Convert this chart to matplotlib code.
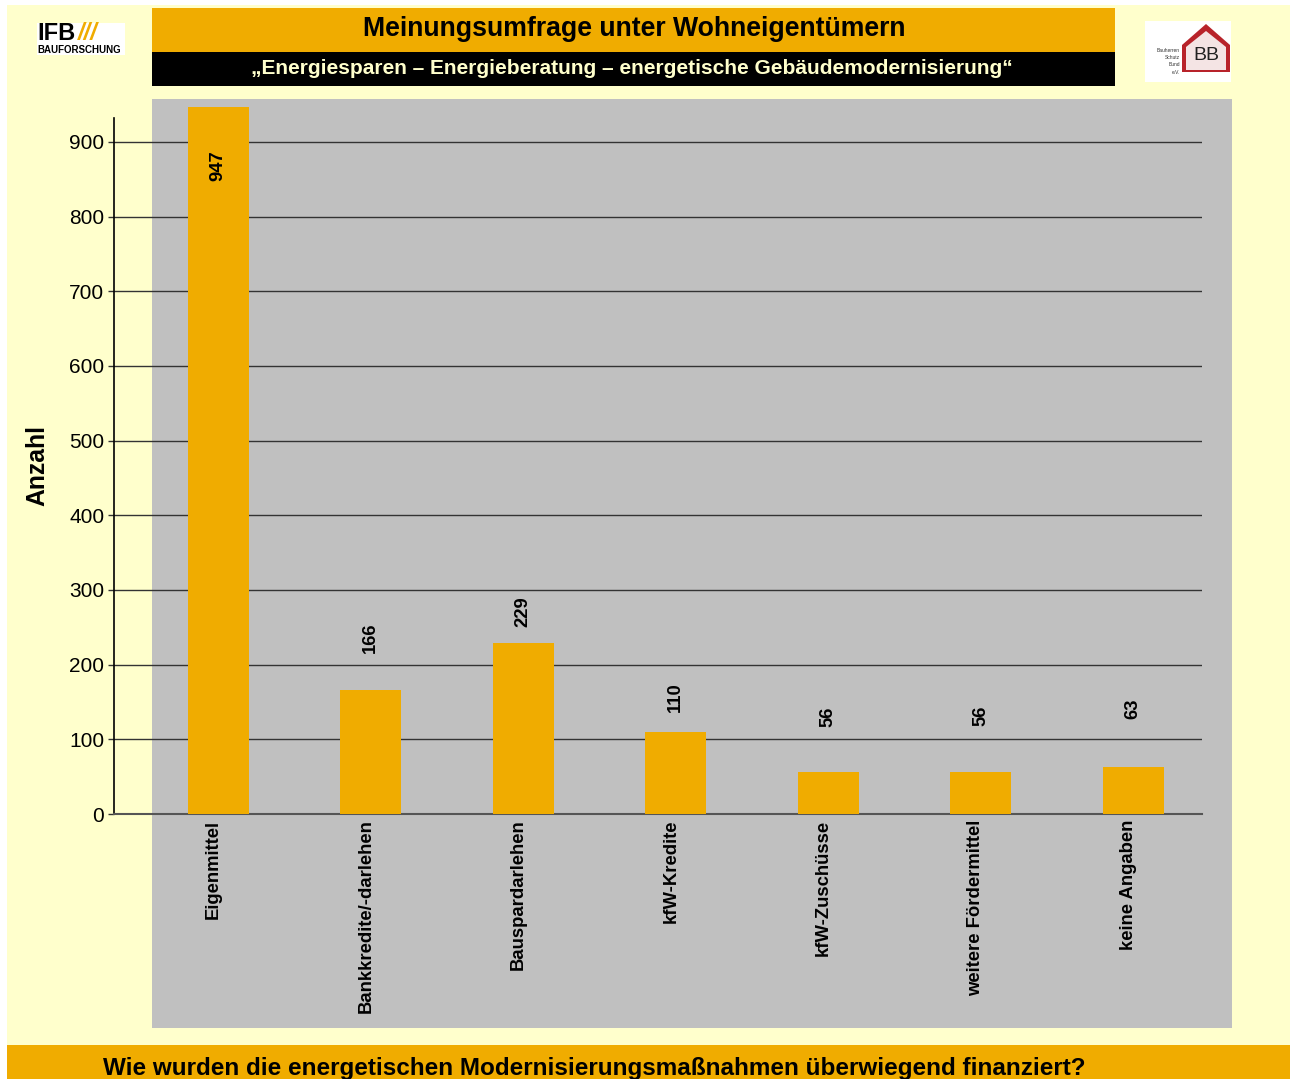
import matplotlib
matplotlib.use("Agg")
import matplotlib.pyplot as plt
from matplotlib.patches import Rectangle, Polygon

# ---- data ----
categories = ["Eigenmittel", "Bankkredite/-darlehen", "Bauspardarlehen",
              "kfW-Kredite", "kfW-Zuschüsse", "weitere Fördermittel", "keine Angaben"]
values = [947, 166, 229, 110, 56, 56, 63]
y_ticks = [0, 100, 200, 300, 400, 500, 600, 700, 800, 900]
title = "Meinungsumfrage unter Wohneigentümern"
subtitle = "\u201EEnergiesparen \u2013 Energieberatung \u2013 energetische Gebäudemodernisierung\u201C"
footer = "Wie wurden die energetischen Modernisierungsmaßnahmen überwiegend finanziert?"
ylabel = "Anzahl"

# style: label offsets in pixels (negative = above bar top)
label_offsets_px = [59, -52, -31, -35, -55, -56, -58]

W, H = 1290, 1079
DPI = 100
ORANGE = "#F0AC00"
YELLOW = "#FFFFCC"
GRAY = "#C0C0C0"

plt.rcParams["font.family"] = ["Liberation Sans", "DejaVu Sans"]

fig = plt.figure(figsize=(W / DPI, H / DPI), dpi=DPI)
fig.patch.set_facecolor("white")

def px_rect(x0, y0, x1, y1, **kw):
    r = Rectangle((x0 / W, 1 - y1 / H), (x1 - x0) / W, (y1 - y0) / H,
                  transform=fig.transFigure, **kw)
    fig.patches.append(r)
    return r

# background
px_rect(7, 5, W, H, facecolor=YELLOW, edgecolor="none", zorder=0)
# gray panel
px_rect(152, 99, 1232, 1028, facecolor=GRAY, edgecolor="none", zorder=0.5)
# title bands
px_rect(152, 8, 1115, 52, facecolor=ORANGE, edgecolor="none", zorder=1)
px_rect(152, 52, 1115, 86, facecolor="black", edgecolor="none", zorder=1)
# footer band
px_rect(7, 1045, W, H, facecolor=ORANGE, edgecolor="none", zorder=1)

fig.text(634 / W, 1 - 29 / H, title, ha="center", va="center", fontsize=19.2,
         fontweight="bold", color="black", zorder=3)
fig.text(632 / W, 1 - 69 / H, subtitle, ha="center", va="center", fontsize=15,
         fontweight="bold", color=YELLOW, zorder=3)
fig.text(594 / W, 1 - 1068 / H, footer, ha="center", va="center", fontsize=17.5,
         fontweight="bold", color="black", zorder=3)

# IFB logo
px_rect(37, 23, 125, 55, facecolor="white", edgecolor="none", zorder=2)
fig.text(37 / W, 1 - 34 / H, "IFB", ha="left", va="center", fontsize=17,
         fontweight="bold", color="black", zorder=3)
fig.text(78 / W, 1 - 34 / H, "///", ha="left", va="center", fontsize=17,
         fontweight="bold", color=ORANGE, style="italic", zorder=3)
fig.text(37 / W, 1 - 50 / H, "BAUFORSCHUNG", ha="left", va="center", fontsize=7,
         fontweight="bold", color="black", zorder=3)

# Bauherren-Schutzbund logo
px_rect(1145, 21, 1231, 82, facecolor="white", edgecolor="none", zorder=2)
house = Polygon([(1182 / W, 1 - 72 / H), (1182 / W, 1 - 45 / H), (1206 / W, 1 - 24 / H),
                 (1230 / W, 1 - 45 / H), (1230 / W, 1 - 72 / H)], closed=True,
                transform=fig.transFigure, facecolor="#B8232A", edgecolor="none", zorder=3)
fig.patches.append(house)
inner = Polygon([(1186 / W, 1 - 70 / H), (1186 / W, 1 - 47 / H), (1206 / W, 1 - 31 / H),
                 (1226 / W, 1 - 47 / H), (1226 / W, 1 - 70 / H)], closed=True,
                transform=fig.transFigure, facecolor="#F4E4E4", edgecolor="none", zorder=3)
fig.patches.append(inner)
fig.text(1206 / W, 1 - 55 / H, "BB", ha="center", va="center", fontsize=14,
         color="#222222", zorder=4)
for i, t in enumerate(["Bauherren", "Schutz", "Bund", "e.V."]):
    fig.text(1180 / W, 1 - (50 + i * 7.5) / H, t, ha="right", va="center", fontsize=3.5,
             color="#333333", zorder=4)

# ---- axes ----
ax = fig.add_axes([114 / W, 1 - 814 / H, (1202 - 114) / W, (814 - 118) / H])
ax.set_facecolor("none")
ax.set_zorder(2)
x = list(range(len(categories)))
ax.bar(x, values, width=0.4, color=ORANGE, edgecolor="none", zorder=3, clip_on=False)
ax.set_xlim(-0.682, 6.452)
ax.set_ylim(0, 932)
ax.set_yticks(y_ticks)
ax.set_yticklabels([str(v) for v in y_ticks], fontsize=15)
ax.yaxis.grid(True, color="#333333", linewidth=1.0, zorder=1)
ax.set_axisbelow(True)
ax.tick_params(axis="y", length=4, width=1, color="#333333", pad=3)
ax.tick_params(axis="x", length=0, pad=4)
ax.set_xticks([xi - 0.03 for xi in x])
ax.set_xticklabels(categories, rotation=90, fontsize=13.3, fontweight="bold", va="top", ha="center")
for s in ["top", "right"]:
    ax.spines[s].set_visible(False)
ax.spines["left"].set_color("black")
ax.spines["left"].set_linewidth(1.2)
ax.spines["bottom"].set_color("#555555")
ax.spines["bottom"].set_linewidth(1.5)
ax.set_ylabel(ylabel, fontsize=17.8, fontweight="bold", labelpad=14)

for xi, v, off in zip(x, values, label_offsets_px):
    ax.annotate(str(v), xy=(xi, v), xytext=(0, -off * 72 / DPI), textcoords="offset points",
                rotation=90, ha="center", va="center", fontsize=13.3, fontweight="bold",
                color="black", zorder=4, annotation_clip=False)

fig.savefig("out.png", dpi=DPI, facecolor=fig.get_facecolor())
